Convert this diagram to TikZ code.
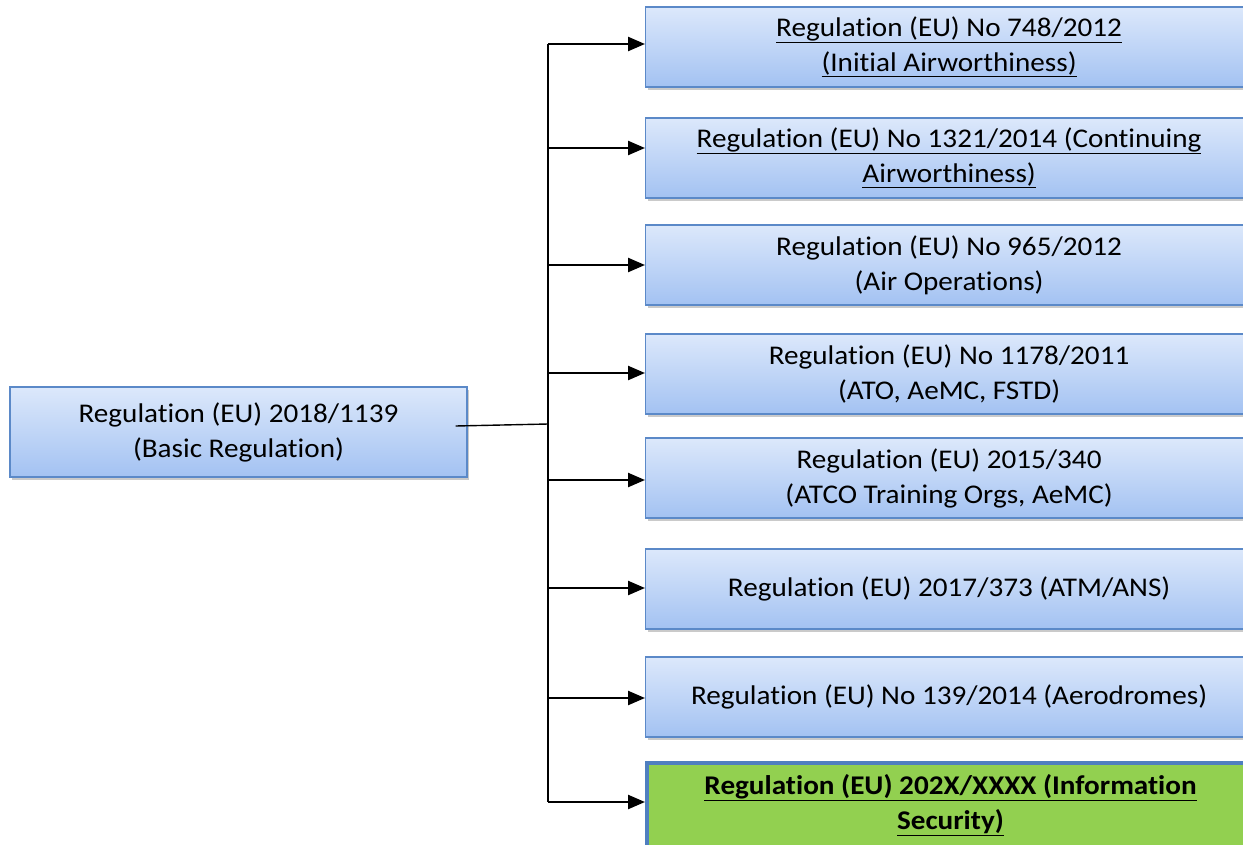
\documentclass[tikz,border=0pt]{standalone}
\usepackage{fontspec}
\setmainfont{Carlito}[Ligatures=NoCommon, RawFeature={-liga;-clig;-calt;-dlig}, FakeStretch=1.08]
\usetikzlibrary{arrows.meta,shadows,calc}
\definecolor{regTop}{HTML}{DCE8FB}
\definecolor{regBottom}{HTML}{A3C2F2}
\definecolor{regBorder}{HTML}{5B89C8}
\definecolor{secGreen}{HTML}{92D050}
\definecolor{secBorder}{HTML}{4F7FC0}
\tikzset{reg box/.style={draw=regBorder, line width=1.2pt, top color=regTop, bottom color=regBottom,
		minimum height=80pt, align=center, inner sep=0pt,
		font=\fontsize{27}{35}\selectfont,
		drop shadow={shadow xshift=2pt, shadow yshift=-3pt, opacity=.35, fill=black!60}}}
\tikzset{sub box/.style={reg box, minimum width=607pt, anchor=west}}
\tikzset{sec box/.style={sub box, fill=secGreen, top color=secGreen, bottom color=secGreen,
		draw=secBorder, line width=4pt, minimum height=84pt, font=\fontsize{27}{35}\selectfont\bfseries}}
\tikzset{feed/.style={-{Triangle[length=17pt,width=14pt]}, line width=2.4pt, black}}

\begin{document}
\begin{tikzpicture}[x=1pt,y=1pt]
	\useasboundingbox (0,0) rectangle (1243,-844);
	\node[reg box, minimum width=457pt, minimum height=90pt] at (238.5,-432) (basic) {Regulation (EU) 2018/1139\\(Basic Regulation)};
	\node[sub box] at (645,-47)  (r748)  {\underline{Regulation (EU) No 748/2012}\\\underline{(Initial Airworthiness)}};
	\node[sub box] at (645,-158) (r1321) {\underline{Regulation (EU) No 1321/2014 (Continuing}\\\underline{Airworthiness)}};
	\node[sub box] at (645,-265) (r965)  {Regulation (EU) No 965/2012\\(Air Operations)};
	\node[sub box] at (645,-374) (r1178) {Regulation (EU) No 1178/2011\\(ATO, AeMC, FSTD)};
	\node[sub box] at (645,-478) (r340)  {Regulation (EU) 2015/340\\(ATCO Training Orgs, AeMC)};
	\node[sub box] at (645,-589) (r373)  {Regulation (EU) 2017/373 (ATM/ANS)};
	\node[sub box] at (645,-697) (r139)  {Regulation (EU) No 139/2014 (Aerodromes)};
	\node[sec box] at (645,-805) (rsec)  {\underline{Regulation (EU) 202X/XXXX (Information}\\\underline{Security)}};
	% trunk of the tree
	\coordinate (join) at (548,-424);
	\coordinate (b748) at (548,-44);
	\coordinate (b1321) at (548,-148);
	\coordinate (b965) at (548,-265);
	\coordinate (b1178) at (548,-373);
	\coordinate (b340) at (548,-480);
	\coordinate (b373) at (548,-588);
	\coordinate (b139) at (548,-698);
	\coordinate (bsec) at (548,-802);
	\draw[line width=1.4pt] ($(basic.east)+(-12,6)$) -- (join);
	\draw[line width=1.8pt] (b748) -- (bsec);
	\draw[feed] (b748) -- (r748.west |- b748);
	\draw[feed] (b1321) -- (r1321.west |- b1321);
	\draw[feed] (b965) -- (r965.west |- b965);
	\draw[feed] (b1178) -- (r1178.west |- b1178);
	\draw[feed] (b340) -- (r340.west |- b340);
	\draw[feed] (b373) -- (r373.west |- b373);
	\draw[feed] (b139) -- (r139.west |- b139);
	\draw[feed] (bsec) -- (rsec.west |- bsec);
\end{tikzpicture}
\end{document}
